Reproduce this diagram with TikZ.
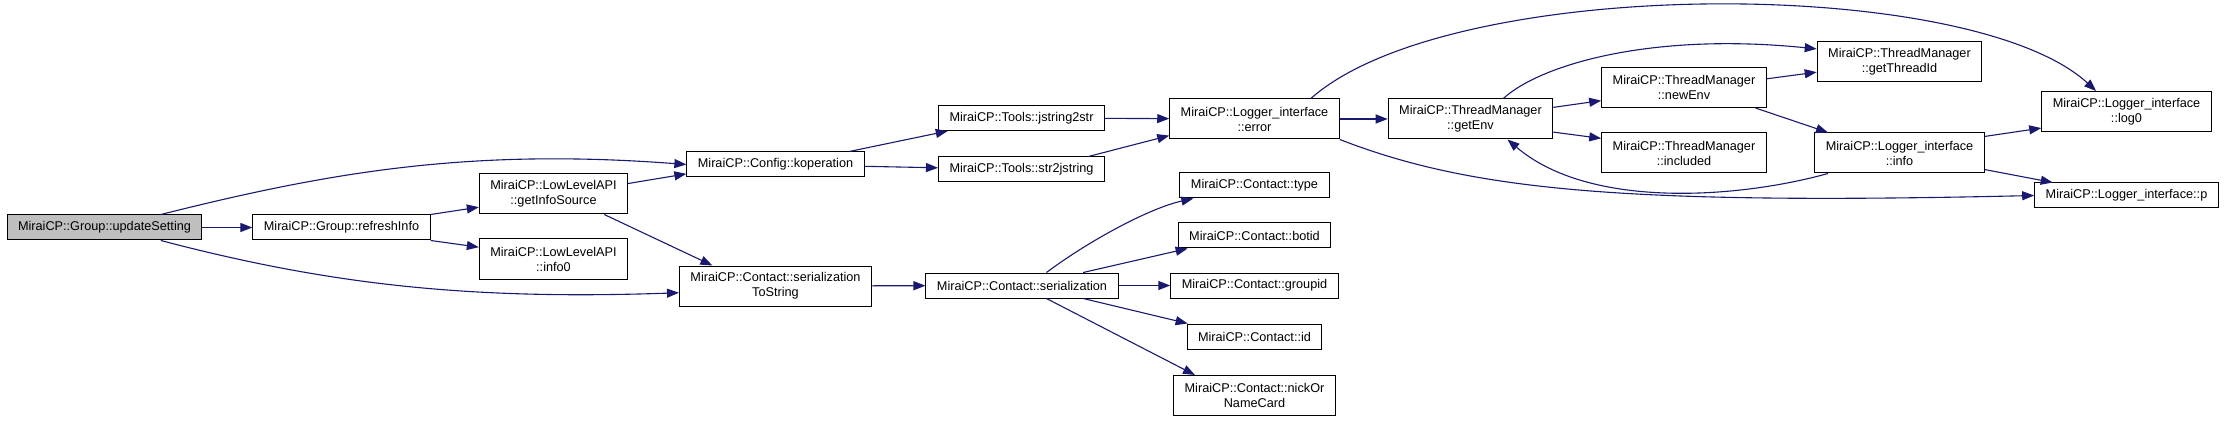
\documentclass[tikz,border=0pt]{standalone}
\usepackage{fontspec}
\setmainfont{Liberation Sans}
\usetikzlibrary{arrows.meta}
\definecolor{callblue}{HTML}{191970}
\definecolor{rootgrey}{HTML}{BFBFBF}

\begin{document}
\begin{tikzpicture}[x=1pt,y=-1pt,>={Triangle[length=12pt,width=9pt]},
  fn/.style={draw=black,line width=1pt,fill=white,inner xsep=11pt,inner ysep=0pt,
    minimum height=25pt,font=\fontsize{12.7}{15}\selectfont},
  fntwo/.style={fn,align=center,minimum height=40pt},
  call/.style={->,draw=callblue,line width=1.1pt}]
\useasboundingbox[fill=white] (0,0) rectangle (2225,422);
\node[fn,fill=rootgrey] (US) at (104.5,227.5) {MiraiCP::Group::updateSetting};
\node[fn] (RI) at (341.5,227.5) {MiraiCP::Group::refreshInfo};
\node[fntwo] (GIS) at (553.5,194) {MiraiCP::LowLevelAPI\\::getInfoSource};
\node[fntwo] (IZ) at (553.5,259) {MiraiCP::LowLevelAPI\\::info0};
\node[fn] (KOP) at (775.5,164.5) {MiraiCP::Config::koperation};
\node[fntwo] (STS) at (775.5,286) {MiraiCP::Contact::serialization\\ToString};
\node[fn] (J2S) at (1021.5,118) {MiraiCP::Tools::jstring2str};
\node[fn] (S2J) at (1021.5,169.5) {MiraiCP::Tools::str2jstring};
\node[fn] (SER) at (1022,285.5) {MiraiCP::Contact::serialization};
\node[fntwo] (ERR) at (1254.5,119) {MiraiCP::Logger\_interface\\::error};
\node[fn] (TYP) at (1254.5,185.5) {MiraiCP::Contact::type};
\node[fn] (BOT) at (1254.5,235.5) {MiraiCP::Contact::botid};
\node[fn] (GID) at (1254.5,285.5) {MiraiCP::Contact::groupid};
\node[fn] (CID) at (1254.5,336.5) {MiraiCP::Contact::id};
\node[fntwo] (NCK) at (1254.5,395.5) {MiraiCP::Contact::nickOr\\NameCard};
\node[fntwo] (GEN) at (1470.5,119) {MiraiCP::ThreadManager\\::getEnv};
\node[fntwo] (NEN) at (1684,87.5) {MiraiCP::ThreadManager\\::newEnv};
\node[fntwo] (INC) at (1684,153) {MiraiCP::ThreadManager\\::included};
\node[fntwo] (GTI) at (1899.5,62) {MiraiCP::ThreadManager\\::getThreadId};
\node[fntwo] (LIN) at (1899.5,153) {MiraiCP::Logger\_interface\\::info};
\node[fntwo] (LOG) at (2126.5,111.5) {MiraiCP::Logger\_interface\\::log0};
\node[fn] (LP) at (2126.5,195.5) {MiraiCP::Logger\_interface::p};
\draw[call] (US) -- (RI);
\draw[call] (US.13) .. controls (330,172) and (470,148) .. (KOP.west);
\draw[call] (US.-13) .. controls (330,285) and (470,300) .. (STS.184);
\draw[call] (RI.north east) -- (GIS.190);
\draw[call] (RI.south east) -- (IZ.171);
\draw[call] (GIS.8) -- (KOP.186);
\draw[call] (GIS.338) -- (STS.162);
\draw[call] (KOP.10) -- (J2S.190);
\draw[call] (KOP) -- (S2J);
\draw[call] (J2S) -- (ERR);
\draw[call] (S2J.11) -- (ERR.191);
\draw[call] (ERR) -- (GEN);
\draw[call] (ERR.20) .. controls (1450,-25) and (1970,-25) .. (LOG.146);
\draw[call] (ERR.south east) .. controls (1470,190) and (1620,205) .. (LP.west);
\draw[call] (GEN.8) -- (NEN.189);
\draw[call] (GEN.351) -- (INC.170);
\draw[call] (GEN.32) .. controls (1540,65) and (1650,32) .. (GTI.171);
\draw[call] (NEN.6) -- (GTI.187);
\draw[call] (NEN.344) -- (LIN.164);
\draw[call] (LIN.196) .. controls (1740,198) and (1590,210) .. (GEN.331);
\draw[call] (LIN.11) -- (LOG.191);
\draw[call] (LIN.349) -- (LP.170);
\draw[call] (STS) -- (SER);
\draw[call] (SER.28) .. controls (1090,240) and (1150,208) .. (TYP.192);
\draw[call] (SER.12) -- (BOT.191);
\draw[call] (SER) -- (GID);
\draw[call] (SER.348) -- (CID.169);
\draw[call] (SER.332) -- (NCK.161);
\end{tikzpicture}
\end{document}
